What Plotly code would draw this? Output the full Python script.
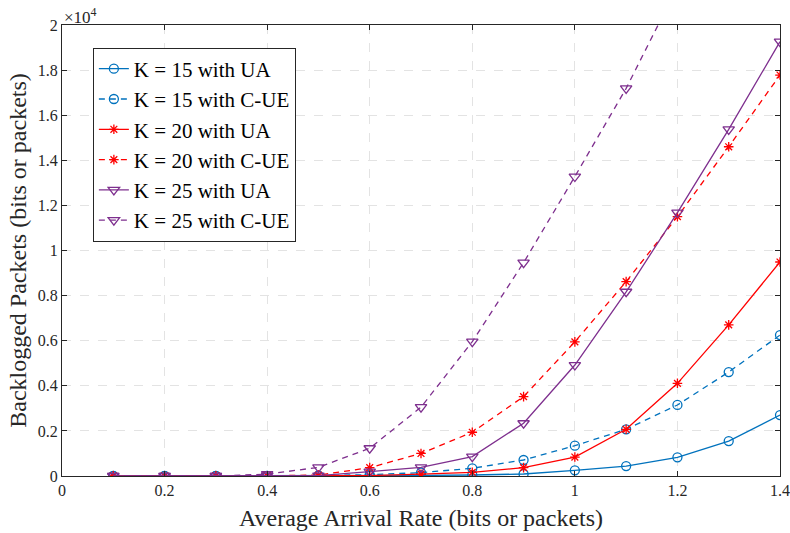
import plotly.graph_objects as go

# Average arrival rate (x) and backlog values for each scheme
rate = [0.1, 0.2, 0.3, 0.4, 0.5, 0.6, 0.7, 0.8, 0.9, 1.0, 1.1, 1.2, 1.3, 1.4]

k15_ua  = [0, 0, 0, 0, 5, 10, 25, 44, 89, 250, 440, 830, 1550, 2700]
k15_cue = [0, 0, 0, 5, 20, 60, 150, 340, 710, 1345, 2070, 3150, 4610, 6250]
k20_ua  = [0, 0, 0, 5, 10, 20, 80, 160, 370, 840, 2070, 4110, 6700, 9490]
k20_cue = [0, 0, 0, 10, 40, 370, 1000, 1940, 3520, 5950, 8620, 11500, 14600, 17780]
k25_ua  = [0, 0, 0, 10, 20, 190, 385, 860, 2340, 4920, 8170, 11680, 15370, 19260]
k25_cue = [0, 0, 0, 80, 385, 1230, 3050, 5960, 9460, 13280, 17190, 21700, 26500, 31800]

x_ticks = [0, 0.2, 0.4, 0.6, 0.8, 1.0, 1.2, 1.4]
x_tick_text = ["0", "0.2", "0.4", "0.6", "0.8", "1", "1.2", "1.4"]
y_ticks = [0, 2000, 4000, 6000, 8000, 10000, 12000, 14000, 16000, 18000, 20000]
y_tick_text = ["0", "0.2", "0.4", "0.6", "0.8", "1", "1.2", "1.4", "1.6", "1.8", "2"]

BLUE = "#0072BD"
RED = "#FF0000"
PURPLE = "#7E2F8E"

series = [
    ("K = 15 with UA", k15_ua, BLUE, "solid", "circle-open", 9),
    ("K = 15 with C-UE", k15_cue, BLUE, "dash", "circle-open", 9),
    ("K = 20 with UA", k20_ua, RED, "solid", "asterisk-open", 8),
    ("K = 20 with C-UE", k20_cue, RED, "dash", "asterisk-open", 8),
    ("K = 25 with UA", k25_ua, PURPLE, "solid", "triangle-down-open", 10),
    ("K = 25 with C-UE", k25_cue, PURPLE, "dash", "triangle-down-open", 10),
]

fig = go.Figure()
for name, ys, color, dash, symbol, size in series:
    fig.add_trace(go.Scatter(
        x=rate, y=ys, name=name, mode="lines+markers",
        line=dict(color=color, width=1.3, dash="6px,5px" if dash == "dash" else "solid"),
        marker=dict(symbol=symbol, size=size, color=color, line=dict(color=color, width=1.3)),
    ))

FONT = "Liberation Serif, Times New Roman, serif"
TICK_COLOR = "#262626"

axis_common = dict(
    showline=True, linecolor="#262626", linewidth=1, mirror="ticks",
    ticks="inside", ticklen=5, tickcolor="#262626",
    showgrid=True, gridcolor="#E3E3E3", griddash="dash", gridwidth=1,
    zeroline=False, automargin=False,
    tickfont=dict(family=FONT, size=16, color=TICK_COLOR),
)

fig.update_layout(
    width=790, height=533,
    margin=dict(l=62, r=10, t=25, b=57),
    paper_bgcolor="white", plot_bgcolor="white",
    font=dict(family=FONT, color=TICK_COLOR),
    xaxis=dict(range=[0, 1.4], tickvals=x_ticks, ticktext=x_tick_text, **axis_common),
    yaxis=dict(
        range=[0, 20000], tickvals=y_ticks, ticktext=y_tick_text,
        title=dict(text="Backlogged Packets (bits or packets)",
                   font=dict(family=FONT, size=24, color=TICK_COLOR), standoff=4),
        **axis_common,
    ),
    legend=dict(
        x=0.043, y=0.95, xanchor="left", yanchor="top",
        bgcolor="white", bordercolor="#262626", borderwidth=1,
        font=dict(family=FONT, size=21, color="black"),
        tracegroupgap=0, itemwidth=30,
    ),
    showlegend=True,
    annotations=[
        dict(
            text="×10<sup>4</sup>", xref="paper", yref="paper", x=0.0, y=1.0,
            xanchor="left", yanchor="bottom", showarrow=False,
            font=dict(family=FONT, size=17, color=TICK_COLOR), yshift=-4,
        ),
        dict(
            text="Average Arrival Rate (bits or packets)", xref="paper", yref="paper",
            x=0.5, y=0.0, xanchor="center", yanchor="middle", yshift=-42,
            showarrow=False, font=dict(family=FONT, size=24, color=TICK_COLOR),
        ),
    ],
)

fig.write_html("out.html")
